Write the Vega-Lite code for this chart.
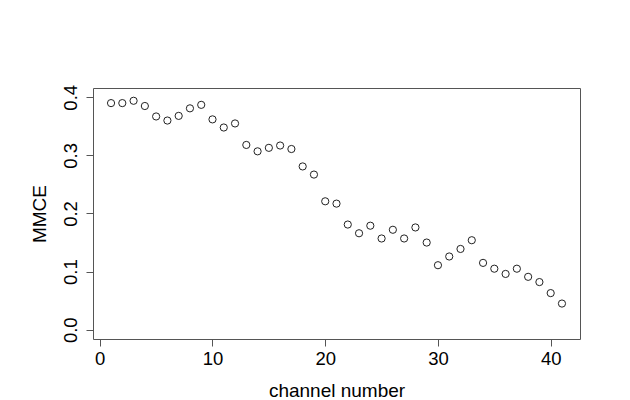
{
  "$schema": "https://vega.github.io/schema/vega-lite/v6.json",
  "autosize": "none",
  "width": 487,
  "height": 251,
  "padding": {"left": 93, "top": 88, "right": 50, "bottom": 61},
  "background": "white",
  "config": {
    "view": {"stroke": "#555555", "strokeWidth": 1},
    "font": "Liberation Sans"
  },
  "data": {
    "values": [
      {"channel": 1, "mmce": 0.390}, {"channel": 2, "mmce": 0.390}, {"channel": 3, "mmce": 0.394},
      {"channel": 4, "mmce": 0.385}, {"channel": 5, "mmce": 0.367}, {"channel": 6, "mmce": 0.360},
      {"channel": 7, "mmce": 0.368}, {"channel": 8, "mmce": 0.381}, {"channel": 9, "mmce": 0.387},
      {"channel": 10, "mmce": 0.362}, {"channel": 11, "mmce": 0.348}, {"channel": 12, "mmce": 0.355},
      {"channel": 13, "mmce": 0.318}, {"channel": 14, "mmce": 0.307}, {"channel": 15, "mmce": 0.313},
      {"channel": 16, "mmce": 0.317}, {"channel": 17, "mmce": 0.311}, {"channel": 18, "mmce": 0.281},
      {"channel": 19, "mmce": 0.267}, {"channel": 20, "mmce": 0.221}, {"channel": 21, "mmce": 0.217},
      {"channel": 22, "mmce": 0.181}, {"channel": 23, "mmce": 0.166}, {"channel": 24, "mmce": 0.179},
      {"channel": 25, "mmce": 0.157}, {"channel": 26, "mmce": 0.172}, {"channel": 27, "mmce": 0.157},
      {"channel": 28, "mmce": 0.176}, {"channel": 29, "mmce": 0.150}, {"channel": 30, "mmce": 0.111},
      {"channel": 31, "mmce": 0.126}, {"channel": 32, "mmce": 0.139}, {"channel": 33, "mmce": 0.154},
      {"channel": 34, "mmce": 0.115}, {"channel": 35, "mmce": 0.105}, {"channel": 36, "mmce": 0.096},
      {"channel": 37, "mmce": 0.105}, {"channel": 38, "mmce": 0.091}, {"channel": 39, "mmce": 0.082},
      {"channel": 40, "mmce": 0.063}, {"channel": 41, "mmce": 0.045}
    ]
  },
  "mark": {"type": "point", "shape": "circle", "filled": false, "stroke": "#222222", "strokeWidth": 1, "size": 52, "opacity": 1},
  "encoding": {
    "x": {
      "field": "channel", "type": "quantitative",
      "scale": {"domain": [-0.6, 42.6], "nice": false, "zero": false},
      "axis": {
        "title": "channel number", "values": [0, 10, 20, 30, 40], "grid": false, "domain": false,
        "tickSize": 7, "tickColor": "#555555", "labelPadding": 3, "labelFontSize": 18.5, "labelColor": "black",
        "titleFontSize": 19, "titleFontWeight": "normal", "titleColor": "black", "titlePadding": 14, "labelFlush": false
      }
    },
    "y": {
      "field": "mmce", "type": "quantitative",
      "scale": {"domain": [-0.016, 0.416], "nice": false, "zero": false},
      "axis": {
        "title": "MMCE", "values": [0, 0.1, 0.2, 0.3, 0.4], "format": ".1f", "grid": false, "domain": false,
        "tickSize": 7, "tickColor": "#555555", "labelAngle": -90, "labelAlign": "center", "labelBaseline": "bottom",
        "labelPadding": 6, "labelFontSize": 18.5, "labelColor": "black", "labelFlush": false,
        "titleFontSize": 19, "titleFontWeight": "normal", "titleColor": "black", "titlePadding": 12
      }
    }
  }
}
